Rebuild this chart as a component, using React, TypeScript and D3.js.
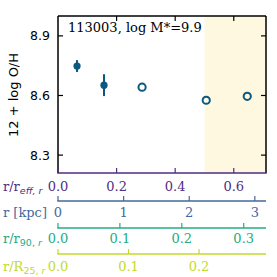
import React from 'react';
import * as d3 from 'd3';

// radial metallicity profile, radius in units of r_eff
const filledR = [0.065, 0.157];
const filledOH = [8.748, 8.652];
const filledErr = [0.03, 0.055];
const openR = [0.287, 0.506, 0.646];
const openOH = [8.642, 8.576, 8.596];

const yTicks = [8.3, 8.6, 8.9];
const reffTicks = [0.0, 0.2, 0.4, 0.6];
const kpcTicks = [0, 1, 2, 3];
const r90Ticks = [0.0, 0.1, 0.2, 0.3];
const r25Ticks = [0.0, 0.1, 0.2];
const shadeFrom = 0.5;
const title = '113003, log M*=9.9';

const W = 277;
const H = 277;
const left = 58;
const right = 266;
const top = 16;
const bottom = 173;

const serif = 'DejaVu Serif';
const sans = 'DejaVu Sans';
const pointColor = '#0b5880';

interface AxisDef {
  label: string;
  sub?: string;
  domainMax: number;
  ticks: number[];
  fmt: (d: number) => string;
  color: string;
  lineY: number;
  textY: number;
}

const extraAxes: AxisDef[] = [
  { label: 'r [kpc]', domainMax: 3.17, ticks: kpcTicks, fmt: d => d3.format('d')(d), color: '#45699c', lineY: 201, textY: 217 },
  { label: 'r/r', sub: '90, r', domainMax: 0.336, ticks: r90Ticks, fmt: d => d3.format('.1f')(d), color: '#26ab84', lineY: 228, textY: 243 },
  { label: 'r/R', sub: '25, r', domainMax: 0.295, ticks: r25Ticks, fmt: d => d3.format('.1f')(d), color: '#c3da2c', lineY: 254, textY: 271 },
];

const App: React.FC = () => {
  const x = d3.scaleLinear().domain([0, 0.71]).range([left, right]);
  const y = d3.scaleLinear().domain([8.21, 9.0]).range([bottom, top]);
  const purple = '#4f2d83';

  return (
    <svg width={W} height={H} style={{ position: 'absolute', left: 0, top: 0 }}>
      <rect x={0} y={0} width={W} height={H} fill="#fff" />
      {/* shaded outer region */}
      <rect x={x(shadeFrom)} y={top} width={right - x(shadeFrom)} height={bottom - top} fill="#fef8e1" />

      {/* frame */}
      <line x1={left} x2={left} y1={top} y2={bottom} stroke="#000" strokeWidth={1.5} />
      <line x1={right} x2={right} y1={top} y2={bottom} stroke="#000" strokeWidth={1.5} />
      <line x1={left} x2={right} y1={top} y2={top} stroke="#000" strokeWidth={1.5} />

      {/* y ticks both sides */}
      {yTicks.map(t => (
        <g key={t}>
          <line x1={left} x2={left + 5} y1={y(t)} y2={y(t)} stroke="#000" strokeWidth={1.2} />
          <line x1={right - 5} x2={right} y1={y(t)} y2={y(t)} stroke="#000" strokeWidth={1.2} />
          <text x={left - 8} y={y(t) + 4.5} textAnchor="end" fontFamily={sans} fontSize={12.5} fill="#000">
            {t.toFixed(1)}
          </text>
        </g>
      ))}
      {/* top ticks */}
      {reffTicks.filter(t => t > 0).map(t => (
        <line key={t} x1={x(t)} x2={x(t)} y1={top} y2={top + 5} stroke="#000" strokeWidth={1.2} />
      ))}

      <text
        transform={`translate(18, 95) rotate(-90)`}
        textAnchor="middle"
        fontFamily={sans}
        fontSize={13}
        fill="#000"
      >
        12 + log O/H
      </text>

      <text x={68} y={32} fontFamily={serif} fontSize={13} fill="#000">{title}</text>

      {/* error bars and points */}
      {filledR.map((r, i) => (
        <g key={'f' + i}>
          <line x1={x(r)} x2={x(r)} y1={y(filledOH[i] - filledErr[i])} y2={y(filledOH[i] + filledErr[i])} stroke={pointColor} strokeWidth={2} />
          <circle cx={x(r)} cy={y(filledOH[i])} r={3.6} fill={pointColor} />
        </g>
      ))}
      {openR.map((r, i) => (
        <circle key={'o' + i} cx={x(r)} cy={y(openOH[i])} r={3.6} fill="none" stroke={pointColor} strokeWidth={2} />
      ))}

      {/* bottom spine = r/r_eff axis */}
      <line x1={left - 0.75} x2={right + 0.75} y1={bottom} y2={bottom} stroke={purple} strokeWidth={1.5} />
      {reffTicks.map(t => (
        <g key={t}>
          <line x1={x(t)} x2={x(t)} y1={bottom - 5} y2={bottom} stroke={purple} strokeWidth={1.2} />
          <text x={x(t)} y={191} textAnchor="middle" fontFamily={serif} fontSize={13} fill={purple}>
            {t.toFixed(1)}
          </text>
        </g>
      ))}
      <text x={3} y={191} fontFamily={serif} fontSize={13} fill={purple}>
        r/r<tspan fontFamily={sans} fontStyle="italic" fontSize={9.5} dy={3}>eff, r</tspan>
      </text>

      {extraAxes.map(ax => {
        const s = d3.scaleLinear().domain([0, ax.domainMax]).range([left, right]);
        return (
          <g key={ax.label + (ax.sub || '')}>
            <line x1={left - 0.75} x2={right} y1={ax.lineY} y2={ax.lineY} stroke={ax.color} strokeWidth={1.5} />
            {ax.ticks.map(t => (
              <g key={t}>
                <line x1={s(t)} x2={s(t)} y1={ax.lineY - 5} y2={ax.lineY} stroke={ax.color} strokeWidth={1.2} />
                <text x={s(t)} y={ax.textY} textAnchor="middle" fontFamily={serif} fontSize={13} fill={ax.color}>
                  {ax.fmt(t)}
                </text>
              </g>
            ))}
            <text x={3} y={ax.textY} fontFamily={serif} fontSize={13} fill={ax.color}>
              {ax.label}
              {ax.sub && (
                <tspan fontFamily={sans} fontSize={9.5} dy={3}>
                  {ax.sub.split(', ')[0] + ', '}
                  <tspan fontStyle="italic">{ax.sub.split(', ')[1]}</tspan>
                </tspan>
              )}
            </text>
          </g>
        );
      })}
    </svg>
  );
};

export default App;
